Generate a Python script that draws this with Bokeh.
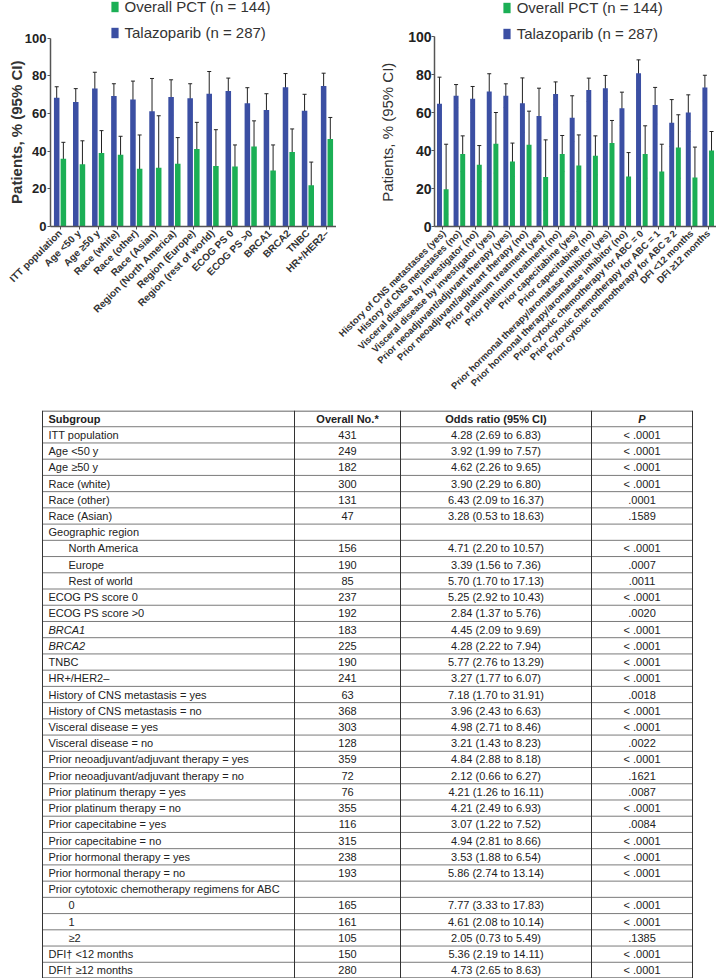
import math
from bokeh.plotting import figure
from bokeh.models import (FactorRange, Range1d, ColumnDataSource, Whisker, TeeHead,
                          Legend, LegendItem, FixedTicker)
from bokeh.transform import dodge
from bokeh.layouts import column, row
from bokeh.core.properties import value
from bokeh.embed import file_html
from bokeh.resources import INLINE

FONT = "Liberation Sans"
BLUE = "#3B4FA3"
GREEN = "#1BAF55"
TXT = "#222222"

# ---------------- left chart data ----------------
left_cats = ["ITT population", "Age <50 y", "Age \u226550 y", "Race (white)", "Race (other)",
             "Race (Asian)", "Region (North America)", "Region (Europe)",
             "Region (rest of world)", "ECOG PS 0", "ECOG PS >0", "BRCA1", "BRCA2",
             "TNBC", "HR+/HER2\u2013"]
left_tal = [68.4, 66.1, 73.3, 69.3, 67.5, 61.2, 68.8, 68.1, 70.5, 71.9, 65.4, 61.9, 74.0, 61.4, 74.6]
left_tal_lo = [63.2, 58.8, 63.7, 63.2, 57.0, 42.1, 59.1, 59.3, 56.7, 64.0, 57.0, 53.0, 66.3, 52.6, 66.3]
left_tal_hi = [74.2, 73.2, 81.9, 75.8, 77.2, 78.6, 77.9, 75.8, 82.3, 78.8, 73.7, 70.5, 81.2, 70.2, 81.4]
left_pct = [36.0, 33.0, 39.0, 38.1, 30.7, 31.2, 33.3, 41.2, 32.1, 31.9, 42.5, 29.8, 39.5, 21.9, 46.5]
left_pct_lo = [28.4, 21.9, 27.5, 28.9, 16.6, 10.5, 21.0, 27.2, 16.6, 22.8, 29.3, 17.5, 28.9, 12.3, 35.4]
left_pct_hi = [44.7, 45.5, 50.9, 47.9, 48.6, 58.8, 47.2, 55.3, 51.4, 43.3, 56.1, 43.3, 51.8, 34.2, 57.9]

# ---------------- right chart data ----------------
right_cats = ["History of CNS metastases (yes)", "History of CNS metastases (no)",
              "Visceral disease by investigator (no)", "Visceral disease by investigator (yes)",
              "Prior neoadjuvant/adjuvant therapy (yes)", "Prior neoadjuvant/adjuvant therapy (no)",
              "Prior platinum treatment (yes)", "Prior platinum treatment (no)",
              "Prior capecitabine (yes)", "Prior capecitabine (no)",
              "Prior hormonal therapy/aromatase inhibitor (yes)",
              "Prior hormonal therapy/aromatase inhibitor (no)",
              "Prior cytoxic chemotherapy for ABC = 0", "Prior cytoxic chemotherapy for ABC = 1",
              "Prior cytoxic chemotherapy for ABC \u2265 2", "DFI <12 months", "DFI \u226512 months"]
right_tal = [64.6, 68.8, 67.2, 71.1, 68.8, 64.9, 58.2, 69.8, 57.2, 71.9, 72.8, 62.3, 80.7, 63.9, 54.6, 60.0, 73.2]
right_tal_lo = [48.6, 62.6, 60.0, 60.0, 62.6, 49.6, 42.6, 64.0, 44.7, 65.8, 65.8, 53.2, 71.9, 53.9, 42.1, 50.0, 66.1]
right_tal_hi = [78.6, 74.7, 73.7, 80.4, 75.1, 78.2, 72.8, 76.1, 68.8, 78.1, 79.5, 70.7, 87.7, 73.2, 66.8, 69.3, 79.6]
right_pct = [19.6, 38.2, 32.5, 43.5, 34.2, 43.0, 26.0, 38.2, 32.1, 37.2, 43.9, 26.3, 38.2, 28.9, 41.6, 25.8, 40.0]
right_pct_lo = [6.5, 28.9, 23.7, 28.1, 26.3, 22.8, 8.5, 28.9, 18.4, 27.2, 32.5, 13.2, 25.4, 17.5, 25.4, 13.2, 29.8]
right_pct_hi = [43.3, 47.7, 42.6, 60.0, 43.9, 60.7, 45.6, 47.9, 48.2, 47.7, 55.8, 38.9, 53.0, 43.3, 58.8, 41.8, 50.0]

y_ticks = [0, 20, 40, 60, 80, 100]
legend_labels = ["Overall PCT (n = 144)", "Talazoparib (n = 287)"]
y_label = "Patients, % (95% CI)"

# ---------------- table data ----------------
table_header = ["Subgroup", "Overall No.*", "Odds ratio (95% CI)", "P"]
table_subgroup = ["ITT population", "Age <50 y", "Age \u226550 y", "Race (white)", "Race (other)",
                  "Race (Asian)", "Geographic region", "North America", "Europe", "Rest of world",
                  "ECOG PS score 0", "ECOG PS score >0", "BRCA1", "BRCA2", "TNBC", "HR+/HER2\u2013",
                  "History of CNS metastasis = yes", "History of CNS metastasis = no",
                  "Visceral disease = yes", "Visceral disease = no",
                  "Prior neoadjuvant/adjuvant therapy = yes", "Prior neoadjuvant/adjuvant therapy = no",
                  "Prior platinum therapy = yes", "Prior platinum therapy = no",
                  "Prior capecitabine = yes", "Prior capecitabine = no",
                  "Prior hormonal therapy = yes", "Prior hormonal therapy = no",
                  "Prior cytotoxic chemotherapy regimens for ABC", "0", "1", "\u22652",
                  "DFI\u2020 <12 months", "DFI\u2020 \u226512 months"]
table_n = ["431", "249", "182", "300", "131", "47", "", "156", "190", "85", "237", "192", "183",
           "225", "190", "241", "63", "368", "303", "128", "359", "72", "76", "355", "116", "315",
           "238", "193", "", "165", "161", "105", "150", "280"]
table_or = ["4.28 (2.69 to 6.83)", "3.92 (1.99 to 7.57)", "4.62 (2.26 to 9.65)", "3.90 (2.29 to 6.80)",
            "6.43 (2.09 to 16.37)", "3.28 (0.53 to 18.63)", "", "4.71 (2.20 to 10.57)",
            "3.39 (1.56 to 7.36)", "5.70 (1.70 to 17.13)", "5.25 (2.92 to 10.43)",
            "2.84 (1.37 to 5.76)", "4.45 (2.09 to 9.69)", "4.28 (2.22 to 7.94)",
            "5.77 (2.76 to 13.29)", "3.27 (1.77 to 6.07)", "7.18 (1.70 to 31.91)",
            "3.96 (2.43 to 6.63)", "4.98 (2.71 to 8.46)", "3.21 (1.43 to 8.23)",
            "4.84 (2.88 to 8.18)", "2.12 (0.66 to 6.27)", "4.21 (1.26 to 16.11)",
            "4.21 (2.49 to 6.93)", "3.07 (1.22 to 7.52)", "4.94 (2.81 to 8.66)",
            "3.53 (1.88 to 6.54)", "5.86 (2.74 to 13.14)", "", "7.77 (3.33 to 17.83)",
            "4.61 (2.08 to 10.14)", "2.05 (0.73 to 5.49)", "5.36 (2.19 to 14.11)",
            "4.73 (2.65 to 8.63)"]
table_p = ["< .0001", "< .0001", "< .0001", "< .0001", ".0001", ".1589", "", "< .0001", ".0007",
           ".0011", "< .0001", ".0020", "< .0001", "< .0001", "< .0001", "< .0001", ".0018",
           "< .0001", "< .0001", ".0022", "< .0001", ".1621", ".0087", "< .0001", ".0084",
           "< .0001", "< .0001", "< .0001", "", "< .0001", "< .0001", ".1385", "< .0001", "< .0001"]
indented = {"North America", "Europe", "Rest of world", "0", "1", "\u22652"}
italic_rows = {"BRCA1", "BRCA2"}

TOP_H = 410
PX_PER_UNIT = 1.9
# the frame reaches up to the canvas top (room for the legend); non-breaking
# spaces after the axis title keep it centred on the 0-100 span as in the original
LABEL_PAD = "\u00a0" * 9


def chart(cats, tal, tal_lo, tal_hi, pct, pct_lo, pct_hi, width, mbl, mbr, frame_h,
          ylab_style, ylab_standoff, tick_size, tick_standoff, xlab_size,
          leg_x, leg_y, leg_spacing, off, bw):
    src = ColumnDataSource(dict(cat=cats, tal=tal, tal_lo=tal_lo, tal_hi=tal_hi,
                                pct=pct, pct_lo=pct_lo, pct_hi=pct_hi))
    p = figure(width=width, height=TOP_H, x_range=FactorRange(factors=cats, range_padding=0),
               y_range=Range1d(0, frame_h / PX_PER_UNIT), output_backend="svg",
               toolbar_location=None, min_border_left=mbl, min_border_right=mbr,
               min_border_top=0, min_border_bottom=TOP_H - frame_h)
    p.background_fill_alpha = 0
    p.border_fill_alpha = 0
    r_tal = p.vbar(x=dodge("cat", -off, range=p.x_range), top="tal", width=bw, source=src,
                   fill_color=BLUE, line_color=None)
    r_pct = p.vbar(x=dodge("cat", off, range=p.x_range), top="pct", width=bw, source=src,
                   fill_color=GREEN, line_color=None)
    for lo, hi, o in (("tal_lo", "tal_hi", -off), ("pct_lo", "pct_hi", off)):
        w = Whisker(source=src, base=dodge("cat", o, range=p.x_range), lower=lo, upper=hi,
                    line_color="#222222", line_width=1,
                    upper_head=TeeHead(size=4, line_color="#222222", line_width=1),
                    lower_head=TeeHead(size=4, line_color="#222222", line_width=1))
        p.add_layout(w)
    leg = Legend(items=[LegendItem(label=legend_labels[0], renderers=[r_pct]),
                        LegendItem(label=legend_labels[1], renderers=[r_tal])],
                 location=(leg_x, leg_y), orientation="vertical", glyph_width=9,
                 glyph_height=13, label_height=13, spacing=leg_spacing, padding=0, margin=0,
                 label_standoff=6, border_line_color=None, background_fill_alpha=0,
                 label_text_font_size="15px", label_text_font=FONT,
                 label_text_color="#333333", label_text_baseline="middle")
    p.add_layout(leg)
    p.xgrid.visible = False
    p.ygrid.visible = False
    p.outline_line_color = None
    p.yaxis.bounds = (0, 100)
    p.yaxis.ticker = FixedTicker(ticks=y_ticks)
    p.yaxis.axis_label = y_label + LABEL_PAD
    p.yaxis.axis_label_text_font = FONT
    p.yaxis.axis_label_text_font_style = ylab_style
    p.yaxis.axis_label_text_font_size = "15px"
    p.yaxis.axis_label_text_color = "#333333"
    p.yaxis.axis_label_standoff = ylab_standoff
    p.yaxis.major_label_text_font = FONT
    p.yaxis.major_label_text_font_style = "bold"
    p.yaxis.major_label_text_font_size = tick_size
    p.yaxis.major_label_text_color = TXT
    p.yaxis.major_label_standoff = tick_standoff
    p.yaxis.minor_tick_line_color = None
    p.axis.major_tick_out = 3
    p.axis.major_tick_in = 0
    p.axis.axis_line_color = "#555555"
    p.axis.axis_line_width = 1.5
    p.axis.major_tick_line_color = "#555555"
    p.xaxis.major_label_orientation = math.pi / 4
    p.xaxis.major_label_text_font = FONT
    p.xaxis.major_label_text_font_style = "bold"
    p.xaxis.major_label_text_font_size = xlab_size
    p.xaxis.major_label_text_color = "#333333"
    p.xaxis.major_label_standoff = 2
    return p


p1 = chart(left_cats, left_tal, left_tal_lo, left_tal_hi, left_pct, left_pct_lo, left_pct_hi,
           width=336, mbl=50, mbr=0, frame_h=228, ylab_style="bold", ylab_standoff=-3,
           tick_size="13px", tick_standoff=1, xlab_size="10px",
           leg_x=59.5, leg_y=185.5, leg_spacing=9, off=0.175, bw=0.29)
p2 = chart(right_cats, right_tal, right_tal_lo, right_tal_hi, right_pct, right_pct_lo, right_pct_hi,
           width=380, mbl=98, mbr=0, frame_h=226, ylab_style="normal", ylab_standoff=9,
           tick_size="14px", tick_standoff=0, xlab_size="9.5px",
           leg_x=67.7, leg_y=183.7, leg_spacing=9, off=0.2, bw=0.3)

# ---------------- table ----------------
nrows = len(table_subgroup) + 1
TABLE_H = 568
t = figure(width=716, height=TABLE_H, x_range=Range1d(0, 716), y_range=Range1d(nrows, 0),
           output_backend="svg", toolbar_location=None, min_border=0,
           x_axis_location=None, y_axis_location=None)
t.outline_line_color = None
t.grid.visible = False

col_edges = [42, 294, 400, 591, 692]
left_e, right_e = col_edges[0], col_edges[-1]
hy = list(range(1, nrows))
t.segment(x0=[left_e] * len(hy), x1=[right_e] * len(hy), y0=hy, y1=hy,
          line_color="#7a7a7a", line_width=1)
t.segment(x0=[left_e, left_e], x1=[right_e, right_e], y0=[0.03, nrows - 0.03],
          y1=[0.03, nrows - 0.03], line_color="#333333", line_width=1.2)
t.segment(x0=col_edges, x1=col_edges, y0=[0] * 5, y1=[nrows] * 5,
          line_color="#333333", line_width=1)

cx = [(col_edges[i] + col_edges[i + 1]) / 2 for i in range(4)]
t.text(x=[left_e + 6], y=[0.5], text=[table_header[0]], text_font=value(FONT),
       text_font_size="11px", text_font_style="bold", text_baseline="middle",
       text_align="left", text_color=TXT)
t.text(x=cx[1:3], y=[0.5, 0.5], text=table_header[1:3], text_font=value(FONT),
       text_font_size="11px", text_font_style="bold", text_baseline="middle",
       text_align="center", text_color=TXT)
t.text(x=[cx[3]], y=[0.5], text=[table_header[3]], text_font=value(FONT),
       text_font_size="11px", text_font_style="bold italic", text_baseline="middle",
       text_align="center", text_color=TXT)

ys = [i + 1.5 for i in range(len(table_subgroup))]
tsrc = ColumnDataSource(dict(
    y=ys, sub=table_subgroup, n=table_n, orr=table_or, pv=table_p,
    xs=[left_e + (26 if s in indented else 6) for s in table_subgroup],
    style=["italic" if s in italic_rows else "normal" for s in table_subgroup]))
t.text(x="xs", y="y", text="sub", source=tsrc, text_font=value(FONT), text_font_size="11px",
       text_font_style="style", text_baseline="middle", text_align="left", text_color=TXT)
for field, xc in (("n", cx[1]), ("orr", cx[2]), ("pv", cx[3])):
    t.text(x=xc, y="y", text=field, source=tsrc, text_font=value(FONT), text_font_size="11px",
           text_baseline="middle", text_align="center", text_color=TXT)

layout = column(row(p1, p2), t)
open("out.html", "w").write(file_html(layout, INLINE))
